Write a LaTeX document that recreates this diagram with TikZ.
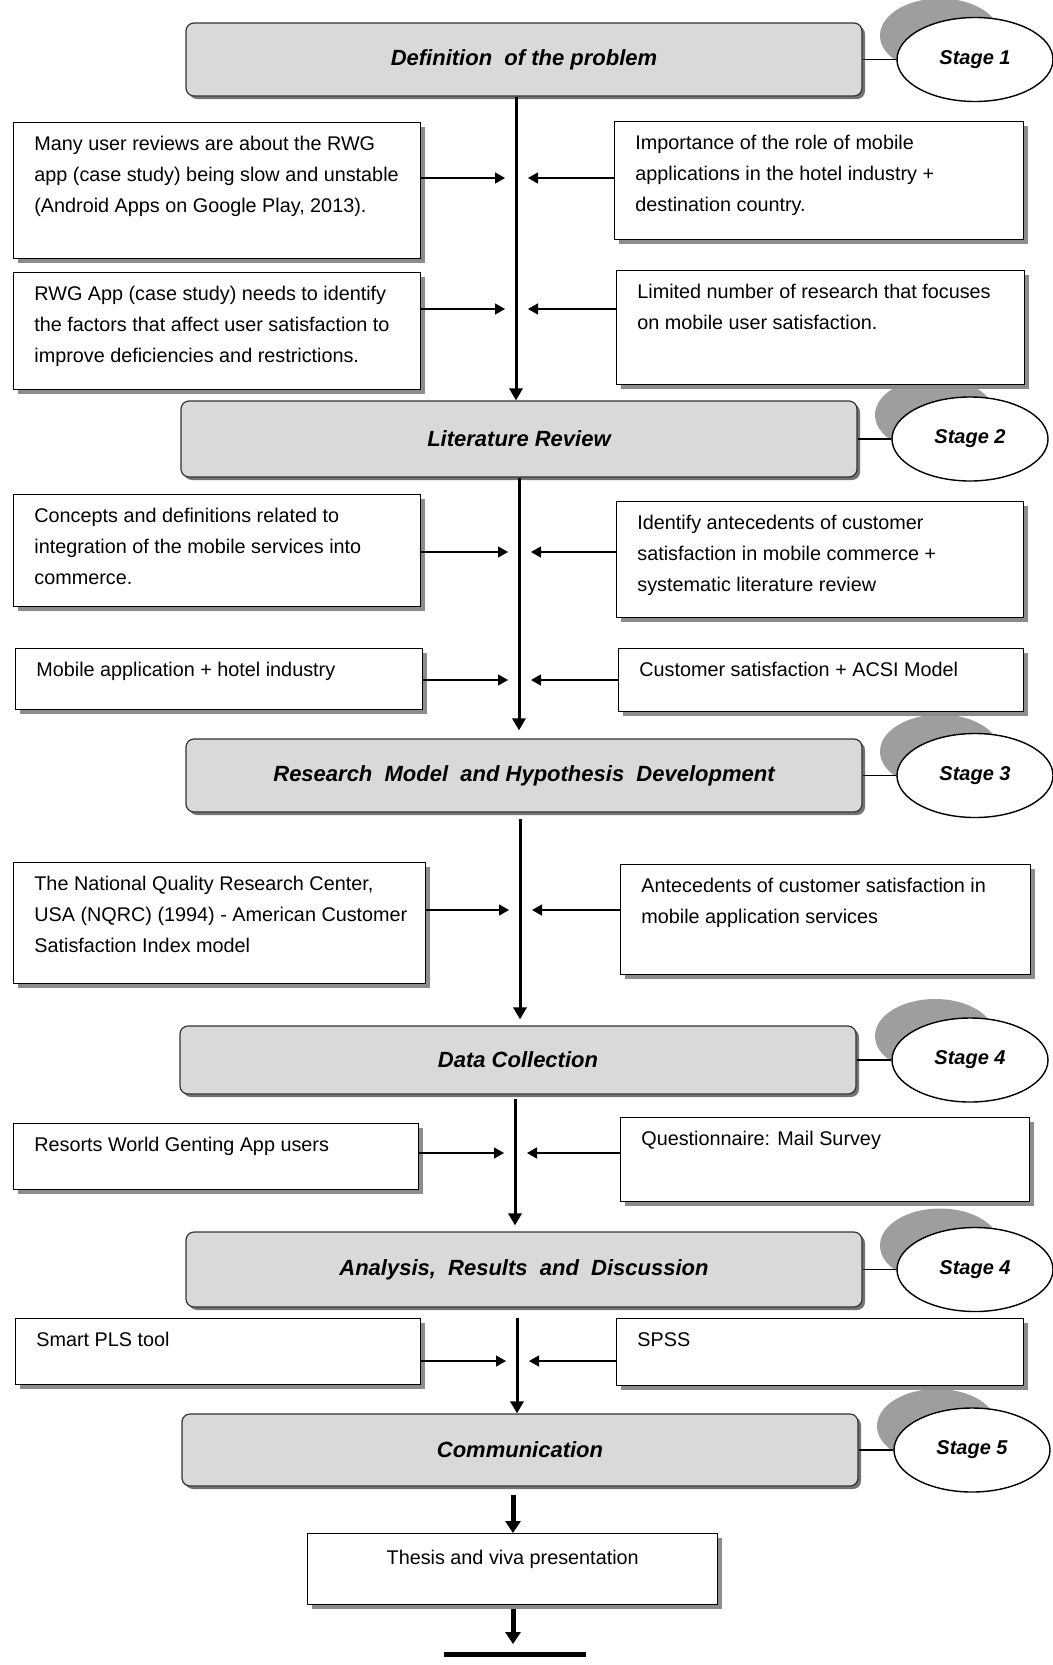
\documentclass[tikz,border=0pt]{standalone}
\usepackage{fontspec}
\setmainfont{Liberation Sans}
\usetikzlibrary{arrows.meta,shapes.geometric,shadows}

\tikzset{
	stagebox/.style={draw=black!80, line width=0.6pt, fill=black!15, rounded corners=4pt, minimum width=338pt,
		drop shadow={shadow xshift=1.5pt, shadow yshift=-1.5pt, fill=black!55, opacity=1},
		font=\fontsize{11}{13}\selectfont\bfseries\itshape},
	infobox/.style={draw, line width=0.7pt, fill=white, anchor=north west,
		drop shadow={shadow xshift=2pt, shadow yshift=-2pt, fill=black!45, opacity=1}},
	infotext/.style={anchor=north west, inner sep=0pt, align=left, font=\fontsize{9.9}{15.5}\selectfont},
	stagetag/.style={ellipse, draw, line width=0.7pt, fill=white, minimum width=78pt, minimum height=42pt,
		font=\fontsize{10}{12}\selectfont\bfseries\itshape},
	tagshade/.style={ellipse, fill=black!38, minimum width=60pt, minimum height=37pt},
	feed/.style={line width=0.7pt, -{Triangle[length=5pt,width=5.5pt]}},
	spine/.style={line width=1.5pt, -{Triangle[length=6pt,width=6.5pt]}},
	bigarrow/.style={line width=2.5pt, -{Triangle[length=6pt,width=7.5pt]}}
}

% name, left, top, width, height (px), text
\newcommand{\infobox}[6]{%
	\node[infobox, minimum width=#4*0.5pt, minimum height=#5*0.5pt] (#1) at (#2,#3) {};
	\node[infotext] (#1-txt) at ([shift={(21,14)}]#1.north west) {#6};
}
% name, x, y (centre of the white ellipse), label
\newcommand{\stagetag}[4]{%
	\node[tagshade] (#1s) at ([shift={(-35,-24)}]#2,#3) {};
	\node[stagetag] (#1) at (#2,#3) {#4};
}

\begin{document}
\begin{tikzpicture}[x=0.5pt,y=-0.5pt]
	%%%%% START %%%%%
	\useasboundingbox (0,0) rectangle (1053,1665);
	
	% junctions on the main line
	\coordinate (j1) at (516,178);
	\coordinate (j2) at (516,309);
	\coordinate (j3) at (519,552);
	\coordinate (j4) at (519,680);
	\coordinate (j5) at (520,910);
	\coordinate (j6) at (515,1153);
	\coordinate (j7) at (517,1361);
	\coordinate (j8) at (513,1600);
	
	% stages
	\stagetag{tag1}{975}{59.5}{Stage 1}
	\node[stagebox, minimum height=36.5pt] (def) at (524,59.5) {Definition~ of the problem};
	\draw[line width=0.7pt] (def.east) -- (tag1.west);
	
	\stagetag{tag2}{970}{439}{Stage 2}
	\node[stagebox, minimum height=38pt] (lit) at (519,439) {Literature Review};
	\draw[line width=0.7pt] (lit.east) -- (tag2.west);
	
	\stagetag{tag3}{975}{775.5}{Stage 3}
	\node[stagebox, minimum height=36.5pt] (model) at (524,775.5) {Research~ Model~ and Hypothesis~ Development};
	\draw[line width=0.7pt] (model.east) -- (tag3.west);
	
	\stagetag{tag4}{970}{1060}{Stage 4}
	\node[stagebox, minimum height=34pt] (data) at (518,1060) {Data Collection};
	\draw[line width=0.7pt] (data.east) -- (tag4.west);
	
	\stagetag{tag5}{975}{1269.5}{Stage 4}
	\node[stagebox, minimum height=37.5pt] (anal) at (524,1269.5) {Analysis,~ Results~ and~ Discussion};
	\draw[line width=0.7pt] (anal.east) -- (tag5.west);
	
	\stagetag{tag6}{972}{1450}{Stage 5}
	\node[stagebox, minimum height=36pt] (comm) at (520,1450) {Communication};
	\draw[line width=0.7pt] (comm.east) -- (tag6.west);
	
	% stage 1 inputs
	\infobox{l1}{13}{122}{407}{136}{Many user reviews are about the RWG\\app (case study) being slow and unstable\\(Android Apps on Google Play, 2013).}
	\infobox{r1}{614}{121}{409}{118}{Importance of the role of mobile\\applications in the hotel industry +\\destination country.}
	\infobox{l2}{13}{272}{407}{117}{RWG App (case study) needs to identify\\the factors that affect user satisfaction to\\improve deficiencies and restrictions.}
	\infobox{r2}{616}{270}{408}{114}{Limited number of research that focuses\\on mobile user satisfaction.}
	
	% stage 2 inputs
	\infobox{l3}{13}{494}{407}{112}{Concepts and definitions related to\\integration of the mobile services into\\commerce.}
	\infobox{r3}{616}{501}{407}{116}{Identify antecedents of customer\\satisfaction in mobile commerce +\\systematic literature review}
	\infobox{l4}{15}{648}{407}{61}{Mobile application + hotel industry}
	\infobox{r4}{618}{648}{405}{63}{Customer satisfaction + ACSI Model}
	
	% stage 3 inputs
	\infobox{l5}{13}{862}{412}{121}{The National Quality Research Center,\\USA (NQRC) (1994) - American Customer\\Satisfaction Index model}
	\infobox{r5}{620}{864}{410}{110}{Antecedents of customer satisfaction in\\mobile application services}
	
	% stage 4 inputs
	\infobox{l6}{13}{1123}{405}{66}{Resorts World Genting App users}
	\infobox{r6}{620}{1117}{409}{84}{Questionnaire: Mail Survey}
	
	% analysis inputs
	\infobox{l7}{15}{1318}{405}{66}{Smart PLS tool}
	\infobox{r7}{616}{1318}{407}{67}{SPSS}
	
	% output
	\node[infobox, minimum width=205pt, minimum height=35.5pt] (thesis) at (307,1533) {};
	\node[infotext, anchor=north] (thesis-txt) at ([yshift=-8.5pt]thesis.north) {Thesis and viva presentation};
	
	% main line
	\draw[spine] (def.south -| j1) -- (lit.north -| j1);
	\draw[spine, shorten >=4pt] (lit.south -| j3) -- (model.north -| j3);
	\draw[spine, shorten <=3pt, shorten >=3pt] (model.south -| j5) -- (data.north -| j5);
	\draw[spine, shorten <=2pt, shorten >=3pt] (data.south -| j6) -- (anal.north -| j6);
	\draw[spine, shorten <=5pt] (anal.south -| j7) -- (comm.north -| j7);
	
	% feeds into the main line
	\foreach \n/\j in {1/j1,2/j2,3/j3,4/j4,5/j5,6/j6,7/j7}{
		\draw[feed] (l\n.east |- \j) -- ([xshift=-5.5pt]\j);
		\draw[feed] (r\n.west |- \j) -- ([xshift=6pt]\j);
	}
	
	% end
	\coordinate (barL) at (444,1654);
	\coordinate (barR) at (586,1654);
	\draw[bigarrow, shorten <=4pt] (comm.south -| j8) -- (thesis.north -| j8);
	\draw[bigarrow, shorten <=2pt, shorten >=5pt] (thesis.south -| j8) -- (barL -| j8);
	\draw[line width=2.5pt] (barL) -- (barR);
	
	%%%%% END %%%%%
\end{tikzpicture}
\end{document}
